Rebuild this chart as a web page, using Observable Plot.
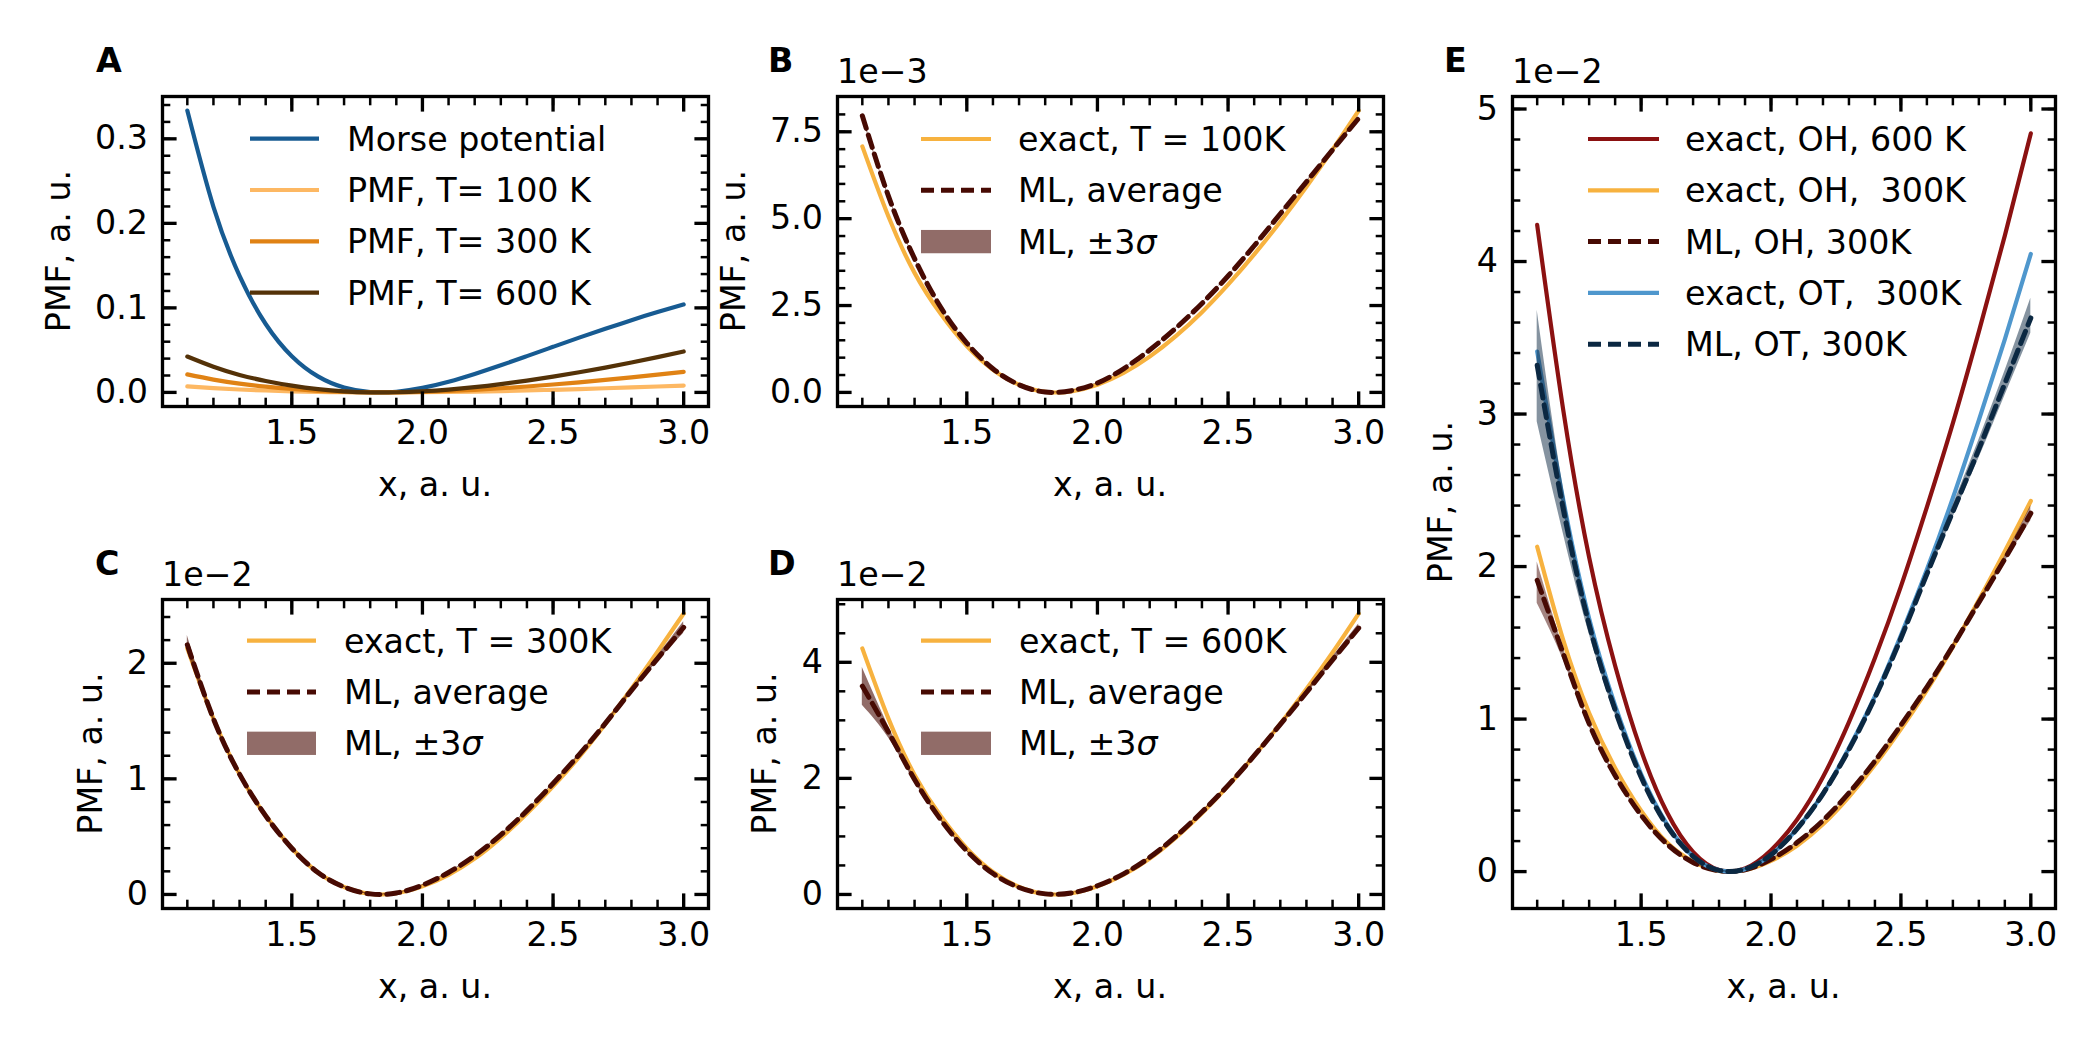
<!DOCTYPE html>
<html><head><meta charset="utf-8">
<script src="https://cdn.jsdelivr.net/npm/d3@7"></script>
<script src="https://cdn.jsdelivr.net/npm/@observablehq/plot@0.6"></script>
<style>
html,body{margin:0;padding:0;background:#fff;}
#fig{position:relative;width:2100px;height:1050px;overflow:hidden;background:#fff;font-family:"DejaVu Sans";}
#fig svg.plotp{position:absolute;max-width:none;}
#overlay{position:absolute;left:0;top:0;}
#overlay text{white-space:pre;}
</style></head><body><div id="fig"></div>
<script>
// ---------------- data ----------------
const xs = [1.1,1.2,1.3,1.4,1.5,1.6,1.7,1.8,1.9,2.0,2.1,2.2,2.3,2.4,2.5,2.6,2.7,2.8,2.9,3.0];
// panel A (a.u.)
const morse = [0.3334,0.2196,0.1379,0.0809,0.0428,0.0189,0.0057,0.0004,0.0008,0.0053,0.0126,0.0218,0.0320,0.0429,0.0539,0.0648,0.0753,0.0855,0.0950,0.1040];
// exact PMFs (100 K in 1e-3 a.u., 300/600 K in 1e-2 a.u.)
const exact100 = [7.08,5.06,3.44,2.26,1.33,0.65,0.22,0.015,0.032,0.22,0.56,1.03,1.62,2.31,3.10,3.97,4.91,5.92,6.99,8.11];
const exactOH300 = [2.13,1.52,1.04,0.68,0.40,0.19,0.065,0.005,0.01,0.07,0.17,0.31,0.49,0.70,0.935,1.19,1.475,1.78,2.10,2.43];
const exactOH600 = [4.24,3.03,2.06,1.35,0.795,0.387,0.129,0.01,0.02,0.14,0.34,0.62,0.98,1.40,1.87,2.39,2.94,3.54,4.17,4.84];
const exactOT300 = [3.41,2.44,1.66,1.09,0.64,0.31,0.10,0.008,0.016,0.11,0.28,0.51,0.81,1.15,1.55,1.98,2.45,2.96,3.49,4.05];
// panel B ML (1e-3)
const mlB    = [7.96,5.65,3.85,2.45,1.42,0.68,0.22,0.01,0.05,0.27,0.68,1.22,1.85,2.56,3.35,4.22,5.14,6.06,6.98,7.89];
const mlB_lo = [7.91,5.62,3.83,2.44,1.41,0.675,0.215,0.0,0.04,0.26,0.67,1.21,1.84,2.55,3.34,4.21,5.12,6.04,6.95,7.85];
const mlB_hi = [8.01,5.68,3.87,2.46,1.43,0.685,0.225,0.02,0.06,0.28,0.69,1.23,1.86,2.57,3.36,4.23,5.16,6.08,7.01,7.93];
// panel C ML (1e-2)
const mlC    = [2.16,1.52,1.04,0.68,0.40,0.19,0.065,0.005,0.012,0.08,0.19,0.335,0.515,0.725,0.96,1.21,1.48,1.765,2.04,2.31];
const mlC_lo = [2.10,1.50,1.03,0.67,0.395,0.185,0.06,0.0,0.007,0.075,0.185,0.33,0.51,0.72,0.955,1.20,1.47,1.75,2.015,2.26];
const mlC_hi = [2.24,1.545,1.05,0.69,0.405,0.195,0.07,0.01,0.017,0.085,0.195,0.34,0.52,0.73,0.965,1.22,1.49,1.78,2.065,2.36];
// panel D ML (1e-2)
const mlD    = [3.59,2.80,1.98,1.29,0.75,0.36,0.12,0.01,0.025,0.15,0.355,0.64,1.00,1.42,1.88,2.39,2.93,3.48,4.04,4.59];
const mlD_lo = [3.26,2.70,1.94,1.27,0.74,0.355,0.115,0.005,0.02,0.145,0.35,0.63,0.99,1.41,1.87,2.375,2.91,3.45,3.99,4.53];
const mlD_hi = [3.91,2.90,2.02,1.31,0.76,0.365,0.125,0.015,0.03,0.155,0.36,0.65,1.01,1.43,1.89,2.405,2.95,3.51,4.09,4.66];
// panel E ML (1e-2)
const mlOH300    = [1.91,1.43,0.97,0.63,0.37,0.18,0.06,0.005,0.012,0.08,0.19,0.335,0.515,0.725,0.96,1.21,1.48,1.765,2.05,2.35];
const mlOH300_lo = [1.76,1.39,0.95,0.62,0.365,0.175,0.055,0.0,0.007,0.075,0.185,0.33,0.51,0.72,0.955,1.20,1.47,1.75,2.03,2.30];
const mlOH300_hi = [2.03,1.47,0.99,0.64,0.375,0.185,0.065,0.01,0.017,0.085,0.195,0.34,0.52,0.73,0.965,1.22,1.49,1.78,2.07,2.40];
const mlOT300    = [3.32,2.38,1.62,1.06,0.62,0.30,0.10,0.008,0.016,0.11,0.28,0.51,0.80,1.14,1.53,1.95,2.36,2.77,3.20,3.63];
const mlOT300_lo = [2.95,2.22,1.56,1.03,0.61,0.295,0.095,0.003,0.011,0.105,0.27,0.50,0.79,1.13,1.51,1.92,2.32,2.71,3.12,3.53];
const mlOT300_hi = [3.68,2.52,1.68,1.09,0.63,0.305,0.105,0.013,0.021,0.115,0.29,0.52,0.81,1.15,1.55,1.98,2.40,2.83,3.28,3.76];
// ticks
const xMajor = [1.5,2.0,2.5,3.0];
const xMinor = [1.1,1.2,1.3,1.4,1.5,1.6,1.7,1.8,1.9,2.0,2.1,2.2,2.3,2.4,2.5,2.6,2.7,2.8,2.9,3.0];
const yMajorA = [0,0.1,0.2,0.3];
const yMinorA = [0,0.02,0.04,0.06,0.08,0.1,0.12,0.14,0.16,0.18,0.2,0.22,0.24,0.26,0.28,0.3,0.32,0.34];
const yMajorB = [0,2.5,5,7.5];
const yMinorB = [0,0.5,1,1.5,2,2.5,3,3.5,4,4.5,5,5.5,6,6.5,7,7.5,8];
const yMajorC = [0,1,2];
const yMinorC = [0,0.2,0.4,0.6,0.8,1,1.2,1.4,1.6,1.8,2,2.2,2.4];
const yMajorD = [0,2,4];
const yMinorD = [0,0.5,1,1.5,2,2.5,3,3.5,4,4.5,5];
const yMajorE = [0,1,2,3,4,5];
const yMinorE = [0,0.2,0.4,0.6,0.8,1,1.2,1.4,1.6,1.8,2,2.2,2.4,2.6,2.8,3,3.2,3.4,3.6,3.8,4,4.2,4.4,4.6,4.8,5];

// ---------------- styles ----------------
const C = {
  morse:"#175b92", p100:"#fdb863", p300:"#e08214", p600:"#543208",
  exact:"#f7b23f", ml:"#470a03", oh600:"#8b1111", ot:"#4f97cd", mlot:"#0b2842"
};
const FS = 33.3, LW = 4.2, DLW = 5, DASH = "13,7";

function padDomain(arrs, withZero){
  const all = withZero ? arrs.flat().concat([0]) : arrs.flat();
  const [a,b] = d3.extent(all); const p = 0.05*(b-a);
  return [a-p, b+p];
}
const xDomain = padDomain([xs], false);
const rows = (ys) => xs.map((x,i)=>({x, y: ys[i]}));
const band = (lo,hi) => xs.map((x,i)=>({x, lo: lo[i], hi: hi[i]}));
const line = (ys, stroke, dashed) => Plot.line(rows(ys), {x:"x", y:"y", stroke, strokeWidth: dashed?DLW:LW, strokeDasharray: dashed?DASH:null, curve:"natural"});
const area = (lo,hi,fill,op) => Plot.areaY(band(lo,hi), {x:"x", y1:"lo", y2:"hi", fill, fillOpacity:op, curve:"natural"});

const fig = document.getElementById("fig");
function ticks(kind, anchor, major, minor){
  const ax = kind==="x" ? Plot.axisX : Plot.axisY;
  return [
    ax(major, {anchor, tickSize:-14.6, strokeWidth:3.33, tickFormat:()=>"", label:null}),
    ax(minor, {anchor, tickSize:-8.3, strokeWidth:2.5, tickFormat:()=>"", label:null})
  ];
}
function panel(box, yDomain, yMajor, yMinor, yFmt, marks){
  const mL=140,mR=30,mT=30,mB=70;
  const w = box.r-box.l, h = box.b-box.t;
  const svg = Plot.plot({
    width:w+mL+mR, height:h+mT+mB, marginLeft:mL, marginRight:mR, marginTop:mT, marginBottom:mB,
    x:{domain:xDomain}, y:{domain:yDomain},
    style:{fontFamily:"DejaVu Sans", fontSize:FS+"px", background:"transparent", overflow:"visible", color:"black"},
    marks:[
      ...marks,
      Plot.axisX(xMajor,{anchor:"bottom", tickSize:0, tickPadding:13.9, tickFormat:d3.format(".1f"), label:null, fontSize:FS}),
      ...ticks("x","bottom",xMajor,xMinor),
      ...ticks("x","top",xMajor,xMinor),
      Plot.axisY(yMajor,{anchor:"left", tickSize:0, tickPadding:14.6, tickFormat:yFmt, label:null, fontSize:FS}),
      ...ticks("y","left",yMajor,yMinor),
      ...ticks("y","right",yMajor,yMinor),
      Plot.frame({stroke:"black", strokeWidth:3.33})
    ]
  });
  svg.classList.add("plotp");
  svg.style.left = (box.l-mL)+"px"; svg.style.top = (box.t-mT)+"px";
  fig.appendChild(svg);
}

const boxA = {l:162,r:708,t:96,b:406}, boxB = {l:837,r:1383,t:96,b:406};
const boxC = {l:162,r:708,t:599,b:908}, boxD = {l:837,r:1383,t:599,b:908};
const boxE = {l:1512,r:2055,t:96,b:908};

const pmf100 = exact100.map(v=>v*1e-3), pmf300 = exactOH300.map(v=>v*1e-2), pmf600 = exactOH600.map(v=>v*1e-2);
const f1 = d3.format(".1f"), fd = d3.format("d");

panel(boxA, padDomain([morse,pmf100,pmf300,pmf600], true), yMajorA, yMinorA, f1, [
  line(morse,C.morse), line(pmf100,C.p100), line(pmf300,C.p300), line(pmf600,C.p600)
]);
panel(boxB, padDomain([exact100,mlB], true), yMajorB, yMinorB, f1, [
  line(exact100,C.exact), area(mlB_lo,mlB_hi,C.ml,0.6), line(mlB,C.ml,true)
]);
panel(boxC, padDomain([exactOH300,mlC], true), yMajorC, yMinorC, fd, [
  line(exactOH300,C.exact), area(mlC_lo,mlC_hi,C.ml,0.6), line(mlC,C.ml,true)
]);
panel(boxD, padDomain([exactOH600,mlD], true), yMajorD, yMinorD, fd, [
  line(exactOH600,C.exact), area(mlD_lo,mlD_hi,C.ml,0.6), line(mlD,C.ml,true)
]);
panel(boxE, padDomain([exactOH600,exactOH300,exactOT300,mlOH300,mlOT300], true), yMajorE, yMinorE, fd, [
  line(exactOH600,C.oh600), line(exactOH300,C.exact),
  area(mlOH300_lo,mlOH300_hi,C.ml,0.5), line(mlOH300,C.ml,true),
  line(exactOT300,C.ot),
  area(mlOT300_lo,mlOT300_hi,C.mlot,0.5), line(mlOT300,C.mlot,true)
]);

// ---------------- overlay: labels, legends, panel letters ----------------
const ov = d3.select(fig).append("svg").attr("id","overlay").attr("width",2100).attr("height",1050)
  .attr("font-family","DejaVu Sans").attr("font-size",FS);
function txt(x,y,s,opt={}){
  const t = ov.append("text").attr("x",x).attr("y",y).text(s);
  if(opt.bold) t.attr("font-weight","bold");
  if(opt.anchor) t.attr("text-anchor",opt.anchor);
  if(opt.rot) t.attr("transform",`rotate(-90 ${x} ${y})`);
  return t;
}
[["A",boxA,96],["B",boxB,768],["C",boxC,95],["D",boxD,768],["E",boxE,1444]].forEach(([L,b,x])=>txt(x,b.t-24.5,L,{bold:true}));
txt(boxB.l,boxB.t-13,"1e\u22123"); txt(boxC.l,boxC.t-13,"1e\u22122"); txt(boxD.l,boxD.t-13,"1e\u22122"); txt(boxE.l,boxE.t-13,"1e\u22122");
[boxA,boxB,boxC,boxD,boxE].forEach(b=>txt((b.l+b.r)/2,b.b+90,"x, a. u.",{anchor:"middle"}));
[[boxA,70],[boxB,745],[boxC,102],[boxD,776],[boxE,1452]].forEach(([b,x])=>txt(x,(b.t+b.b)/2,"PMF, a. u.",{anchor:"middle",rot:true}));

function legend(items, hx0, hx1, tx, y0){
  items.forEach((it,i)=>{
    const y = y0 + i*51.3;
    if(it.patch){
      ov.append("rect").attr("x",hx0).attr("y",y-11.65).attr("width",hx1-hx0).attr("height",23.3)
        .attr("fill",it.color).attr("fill-opacity",it.op);
    } else {
      ov.append("line").attr("x1",hx0).attr("x2",hx1).attr("y1",y).attr("y2",y)
        .attr("stroke",it.color).attr("stroke-width",it.dash?DLW:LW).attr("stroke-dasharray",it.dash?DASH:null);
    }
    const t = ov.append("text").attr("x",tx).attr("y",y+12);
    if(it.sigma){ t.append("tspan").text(it.label); t.append("tspan").attr("font-style","italic").text("\u03c3"); }
    else t.text(it.label);
  });
}
legend([
  {label:"Morse potential",color:C.morse},{label:"PMF, T= 100 K",color:C.p100},
  {label:"PMF, T= 300 K",color:C.p300},{label:"PMF, T= 600 K",color:C.p600}
], 250, 319, 347, 138.7);
const mlItems = (lab)=>[{label:lab,color:C.exact},{label:"ML, average",color:C.ml,dash:true},{label:"ML, \u00b13",color:C.ml,patch:true,op:0.6,sigma:true}];
legend(mlItems("exact, T = 100K"), 921, 991, 1018, 139);
legend(mlItems("exact, T = 300K"), 247, 316, 344, 640.7);
legend(mlItems("exact, T = 600K"), 921, 991, 1019, 640.7);
legend([
  {label:"exact, OH, 600 K",color:C.oh600},{label:"exact, OH,  300K",color:C.exact},
  {label:"ML, OH, 300K",color:C.ml,dash:true},{label:"exact, OT,  300K",color:C.ot},
  {label:"ML, OT, 300K",color:C.mlot,dash:true}
], 1588, 1659, 1685, 139);
</script></body></html>
